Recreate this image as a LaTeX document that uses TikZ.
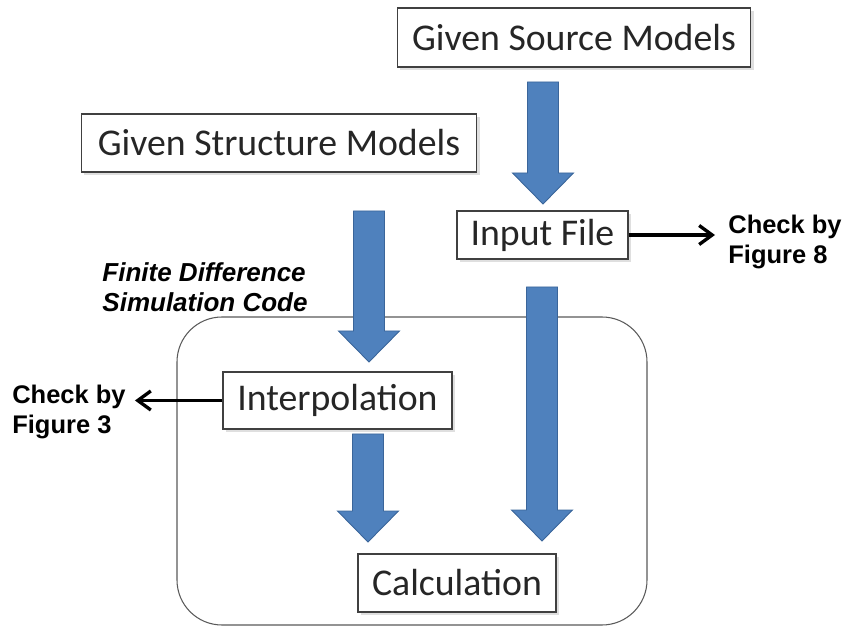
\documentclass[tikz,border=0pt]{standalone}
\usepackage{fontspec}
\setmainfont{Carlito}
\newfontfamily\arialfont{Liberation Sans}
\usetikzlibrary{positioning,calc,arrows.meta,shadows}
\definecolor{ArrowBlue}{HTML}{4F81BD}
\definecolor{ArrowEdge}{HTML}{3A659A}
\definecolor{BoxEdge}{HTML}{404040}
\definecolor{FrameEdge}{HTML}{595959}

% block arrow from top point #1 down to tip #2
\newcommand{\fatarrow}[2]{%
  \filldraw[fat] ($(#1)+(-15.5,0)$) -- ($(#1)+(15.5,0)$) -- ($(#2)+(15.5,-31)$)
    -- ($(#2)+(30.5,-31)$) -- (#2) -- ($(#2)+(-30.5,-31)$)
    -- ($(#2)+(-15.5,-31)$) -- cycle;}

\begin{document}
\begin{tikzpicture}[
  x=0.02cm, y=-0.02cm,
  blk/.style={draw=BoxEdge, fill=white, line width=0.6pt, inner sep=0pt,
              font=\fontsize{21.5}{25}\selectfont, text=black!85,
              drop shadow={opacity=0.25, shadow xshift=1.5pt, shadow yshift=-1.5pt}},
  note/.style={font=\arialfont\bfseries\fontsize{14.5}{17.5}\selectfont,
               align=left, inner sep=0pt},
  arr/.style={-{Straight Barb[length=0.26cm,width=0.38cm]}, line width=1.9pt},
  fat/.style={fill=ArrowBlue, draw=ArrowEdge, line width=0.5pt}
]
\useasboundingbox (0,0) rectangle (846,628);

\draw[draw=FrameEdge, line width=0.6pt, rounded corners=0.9cm] (177,317) rectangle (647,625);
\node[note, font=\arialfont\bfseries\itshape\fontsize{14.8}{17}\selectfont] (fdc) at (205,287)
  {Finite Difference\\Simulation Code};

\node[blk, minimum width=7.08cm, minimum height=1.18cm] (src)    at (574,37.5) {Given Source Models};
\node[blk, minimum width=7.92cm, minimum height=1.16cm] (struct) at (279,143)  {Given Structure Models};
\node[blk, minimum width=3.42cm, minimum height=0.96cm] (input)  at (542.5,235) {Input File};
\node[blk, minimum width=4.58cm, minimum height=1.14cm] (interp) at (337.5,400.5) {Interpolation};
\node[blk, minimum width=3.96cm, minimum height=1.16cm] (calc)   at (457,583)  {Calculation};

\coordinate (a1s) at (543,82);  \coordinate (a1e) at (543,204);
\coordinate (a2s) at (369,211); \coordinate (a2e) at (369,362);
\coordinate (a3s) at (542,287); \coordinate (a3e) at (542,541);
\coordinate (a4s) at (368,434); \coordinate (a4e) at (368,542);
\fatarrow{a1s}{a1e}
\fatarrow{a2s}{a2e}
\fatarrow{a3s}{a3e}
\fatarrow{a4s}{a4e}

\node[note, anchor=west] (chk8) at (728,242) {Check by\\Figure 8};
\node[note, anchor=west] (chk3) at (12,412)  {Check by\\Figure 3};

\draw[arr, shorten >=0.26cm] (input.east) -- (input.east -| chk8.west);
\draw[arr, shorten >=0.18cm] (interp.west) -- (interp.west -| chk3.east);
\end{tikzpicture}
\end{document}
